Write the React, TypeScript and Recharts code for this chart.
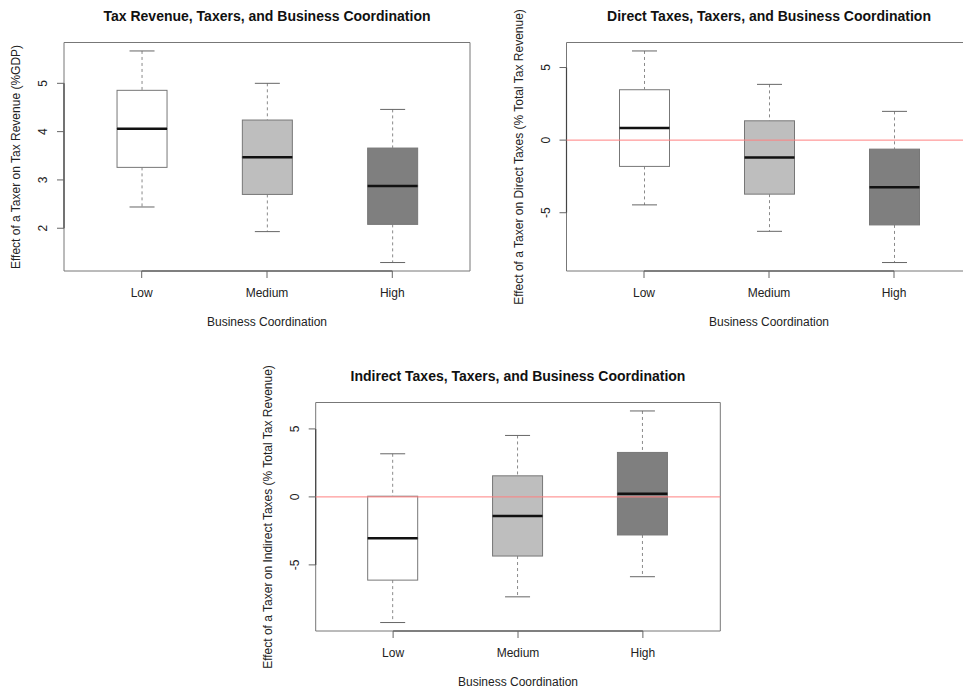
import React from 'react';
import {
  ComposedChart,
  Bar,
  XAxis,
  YAxis,
  ReferenceLine,
  ReferenceArea,
} from 'recharts';

// five-number summaries per category: [lower whisker, Q1, median, Q3, upper whisker]
const categories = ['Low', 'Medium', 'High'];
const revenueStats = [
  [2.44, 3.26, 4.06, 4.855, 5.67],
  [1.93, 2.7, 3.47, 4.24, 5.0],
  [1.29, 2.08, 2.875, 3.66, 4.46],
];
const directStats = [
  [-4.46, -1.81, 0.83, 3.47, 6.14],
  [-6.28, -3.72, -1.19, 1.33, 3.84],
  [-8.43, -5.84, -3.24, -0.62, 1.98],
];
const indirectStats = [
  [-9.24, -6.12, -3.04, 0.05, 3.17],
  [-7.35, -4.35, -1.4, 1.55, 4.52],
  [-5.87, -2.8, 0.24, 3.27, 6.32],
];
const revenueTicks = [2, 3, 4, 5];
const shareTicks = [-5, 0, 5];
const boxFills = ['#ffffff', '#bebebe', '#7f7f7f'];

const FONT = '"Liberation Sans", Arial, Helvetica, sans-serif';
const PLOT_TOP = 42.5;
const PLOT_BOTTOM = 271;

const span = (p: any) => {
  const y1 = p.y;
  const y2 = p.y + p.height;
  return {
    top: Math.min(y1, y2),
    bottom: Math.max(y1, y2),
    cx: p.x + p.width / 2,
    x: p.x,
    w: p.width,
  };
};

const Empty = () => <g />;

const LowerWhisker = (p: any) => {
  const { top, bottom, cx, w } = span(p);
  return (
    <g>
      <line x1={cx} x2={cx} y1={top} y2={bottom} stroke="#8a8a8a" strokeDasharray="3 3" />
      <line x1={cx - w / 4} x2={cx + w / 4} y1={bottom} y2={bottom} stroke="#666" />
    </g>
  );
};

const UpperWhisker = (p: any) => {
  const { top, bottom, cx, w } = span(p);
  return (
    <g>
      <line x1={cx} x2={cx} y1={top} y2={bottom} stroke="#8a8a8a" strokeDasharray="3 3" />
      <line x1={cx - w / 4} x2={cx + w / 4} y1={top} y2={top} stroke="#666" />
    </g>
  );
};

const BoxLower = (p: any) => {
  const { top, bottom, x, w } = span(p);
  return <rect x={x} y={top} width={w} height={bottom - top} fill={p.payload.fill} stroke="#777" />;
};

const BoxUpper = (p: any) => {
  const { top, bottom, x, w } = span(p);
  return (
    <g>
      <rect x={x} y={top} width={w} height={bottom - top} fill={p.payload.fill} stroke="#777" />
      <line x1={x} x2={x + w} y1={bottom} y2={bottom} stroke="#111" strokeWidth={2.5} />
    </g>
  );
};

const XTick = ({ x, y, payload }: any) => (
  <text x={x} y={y} textAnchor="middle" dominantBaseline="central" fontSize={12} fill="#222" fontFamily={FONT}>
    {categories[payload.value - 1]}
  </text>
);

const YTick = ({ x, y, payload }: any) => (
  <text
    x={x}
    y={y}
    transform={`rotate(-90, ${x}, ${y})`}
    textAnchor="middle"
    fontSize={12}
    fill="#222"
    fontFamily={FONT}
  >
    {payload.value}
  </text>
);

interface PanelProps {
  title: string;
  yLabel: string;
  stats: number[][];
  ticks: number[];
  zeroLine?: boolean;
  left: number;
  top: number;
  width: number;
  height: number;
  plotLeft: number;
  plotRight: number;
}

function BoxPanel({ title, yLabel, stats, ticks, zeroLine, left, top, width, height, plotLeft, plotRight }: PanelProps) {
  const rows = stats.map((s, i) => ({
    pos: i + 1,
    name: categories[i],
    fill: boxFills[i],
    base: s[0],
    lowW: s[1] - s[0],
    boxLo: s[2] - s[1],
    boxHi: s[3] - s[2],
    upW: s[4] - s[3],
  }));
  const all = stats.flat();
  const lo = Math.min(...all);
  const hi = Math.max(...all);
  const pad = (hi - lo) * 0.04;
  const yDomain = [lo - pad, hi + pad];
  const n = categories.length;
  const xDomain = [0.5 - 0.04 * n, n + 0.5 + 0.04 * n];
  const cx = (plotLeft + plotRight) / 2;
  const cy = (PLOT_TOP + PLOT_BOTTOM) / 2;

  return (
    <div style={{ position: 'absolute', left, top, width, height }}>
      <ComposedChart
        width={width}
        height={height}
        data={rows}
        margin={{ top: PLOT_TOP, bottom: height - PLOT_BOTTOM - 30, left: plotLeft - 30, right: width - plotRight }}
      >
        <XAxis
          type="number"
          dataKey="pos"
          domain={xDomain}
          ticks={[1, 2, 3]}
          allowDataOverflow
          height={30}
          axisLine={false}
          tickSize={7}
          tickMargin={15}
          tickLine={{ stroke: '#666' }}
          tick={<XTick />}
        />
        <YAxis
          type="number"
          domain={yDomain}
          ticks={ticks}
          allowDataOverflow
          width={30}
          axisLine={false}
          tickSize={7}
          tickMargin={9.5}
          tickLine={{ stroke: '#666' }}
          tick={<YTick />}
        />
        <ReferenceArea
          x1={xDomain[0]}
          x2={xDomain[1]}
          y1={yDomain[0]}
          y2={yDomain[1]}
          fill="none"
          fillOpacity={0}
          stroke="#777"
          strokeOpacity={1}
        />
        {/* R draws the axis lines only between the outer ticks */}
        <ReferenceLine
          segment={[
            { x: 1, y: yDomain[0] },
            { x: n, y: yDomain[0] },
          ]}
          stroke="#444"
          strokeWidth={1.2}
        />
        <ReferenceLine
          segment={[
            { x: xDomain[0], y: ticks[0] },
            { x: xDomain[0], y: ticks[ticks.length - 1] },
          ]}
          stroke="#444"
          strokeWidth={1.2}
        />
        {zeroLine && <ReferenceLine y={0} stroke="#ff8080" strokeWidth={1} />}
        <Bar dataKey="base" stackId="box" barSize={50} shape={<Empty />} isAnimationActive={false} />
        <Bar dataKey="lowW" stackId="box" barSize={50} shape={<LowerWhisker />} isAnimationActive={false} />
        <Bar dataKey="boxLo" stackId="box" barSize={50} shape={<BoxLower />} isAnimationActive={false} />
        <Bar dataKey="boxHi" stackId="box" barSize={50} shape={<BoxUpper />} isAnimationActive={false} />
        <Bar dataKey="upW" stackId="box" barSize={50} shape={<UpperWhisker />} isAnimationActive={false} />
      </ComposedChart>
      <div
        style={{
          position: 'absolute',
          left: cx,
          top: PLOT_TOP - 27,
          transform: 'translate(-50%, -50%)',
          whiteSpace: 'nowrap',
          fontWeight: 'bold',
          fontSize: 14,
          color: '#111',
        }}
      >
        {title}
      </div>
      <div
        style={{
          position: 'absolute',
          left: plotLeft - 48,
          top: cy,
          transform: 'translate(-50%, -50%) rotate(-90deg)',
          whiteSpace: 'nowrap',
          fontSize: 12,
          color: '#222',
        }}
      >
        {yLabel}
      </div>
      <div
        style={{
          position: 'absolute',
          left: cx,
          top: PLOT_BOTTOM + 51,
          transform: 'translate(-50%, -50%)',
          whiteSpace: 'nowrap',
          fontSize: 12,
          color: '#222',
        }}
      >
        Business Coordination
      </div>
    </div>
  );
}

export default function App() {
  return (
    <div
      style={{
        position: 'absolute',
        left: 0,
        top: 0,
        width: 963,
        height: 692,
        overflow: 'hidden',
        background: '#fff',
        fontFamily: FONT,
      }}
    >
      <BoxPanel
        title="Tax Revenue, Taxers, and Business Coordination"
        yLabel="Effect of a Taxer on Tax Revenue (%GDP)"
        stats={revenueStats}
        ticks={revenueTicks}
        left={0}
        top={0}
        width={480}
        height={340}
        plotLeft={64}
        plotRight={470}
      />
      <BoxPanel
        title="Direct Taxes, Taxers, and Business Coordination"
        yLabel="Effect of a Taxer on Direct Taxes (% Total Tax Revenue)"
        stats={directStats}
        ticks={shareTicks}
        zeroLine
        left={480}
        top={0}
        width={500}
        height={340}
        plotLeft={86.5}
        plotRight={491.5}
      />
      <BoxPanel
        title="Indirect Taxes, Taxers, and Business Coordination"
        yLabel="Effect of a Taxer on Indirect Taxes (% Total Tax Revenue)"
        stats={indirectStats}
        ticks={shareTicks}
        zeroLine
        left={240}
        top={360}
        width={490}
        height={332}
        plotLeft={75.7}
        plotRight={480.3}
      />
    </div>
  );
}
